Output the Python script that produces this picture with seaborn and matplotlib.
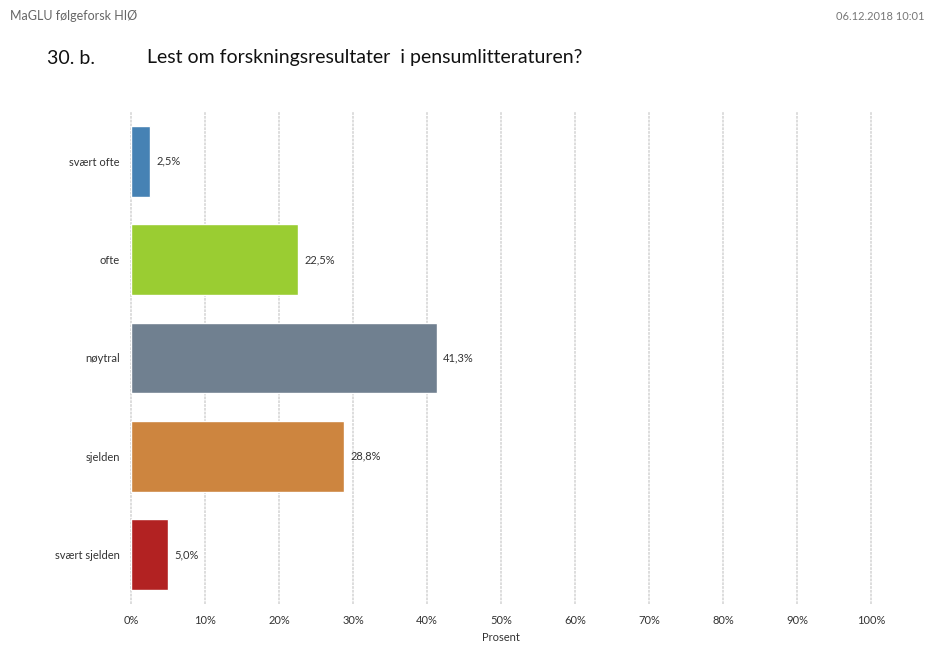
import matplotlib
matplotlib.use("Agg")
import matplotlib.pyplot as plt
import seaborn as sns
import pandas as pd

categories = ["svært ofte", "ofte", "nøytral", "sjelden", "svært sjelden"]
percent = [2.5, 22.5, 41.3, 28.8, 5.0]
colors = ["#4682B4", "#9ACD32", "#708090", "#CD853F", "#B22222"]
xticks = [0, 10, 20, 30, 40, 50, 60, 70, 80, 90, 100]

sns.set_theme(style="white")
plt.rcParams["font.family"] = ["Lato", "DejaVu Sans"]

df = pd.DataFrame({"kategori": categories, "prosent": percent})

fig = plt.figure(figsize=(9.31, 6.48), dpi=100)
ax = fig.add_axes([131 / 931, 1 - 604 / 648, 740 / 931, 492 / 648])

sns.barplot(data=df, y="kategori", x="prosent", hue="kategori",
            palette=colors, order=categories, hue_order=categories,
            width=0.72, legend=False, ax=ax, saturation=1)

ax.set_xlim(0, 100)
ax.set_ylim(4.5, -0.5)
ax.set_xticks(xticks)
ax.set_xticklabels([f"{t}%" for t in xticks], fontsize=8, color="#333333")
ax.tick_params(axis="y", labelsize=8, labelcolor="#333333", length=0, pad=8)
ax.tick_params(axis="x", length=0, pad=8)
ax.set_ylabel("")
ax.set_xlabel("Prosent", fontsize=8, color="#333333", labelpad=4)
for s in ax.spines.values():
    s.set_visible(False)
ax.set_axisbelow(True)
ax.xaxis.grid(True, color="#dadada", linestyle=(0, (1.5, 0.6)), linewidth=1.3)
for gl in ax.get_xgridlines():
    gl.set_clip_on(False)

for i, v in enumerate(percent):
    ax.text(v + 0.9, i, f"{v:.1f}%".replace(".", ","), va="center", ha="left",
            fontsize=8, color="#333333")

fig.text(10 / 931, 1 - 16 / 648, "MaGLU følgeforsk HIØ", fontsize=9,
         color="#666666", va="center")
fig.text(925 / 931, 1 - 16 / 648, "06.12.2018 10:01", fontsize=8,
         color="#777777", va="center", ha="right")
fig.text(47 / 931, 1 - 58 / 648, "30. b.", fontsize=14, color="#111111", va="center")
fig.text(147 / 931, 1 - 58 / 648, "Lest om forskningsresultater  i pensumlitteraturen?",
         fontsize=14, color="#111111", va="center")

fig.savefig("out.png", dpi=100, facecolor="white")
